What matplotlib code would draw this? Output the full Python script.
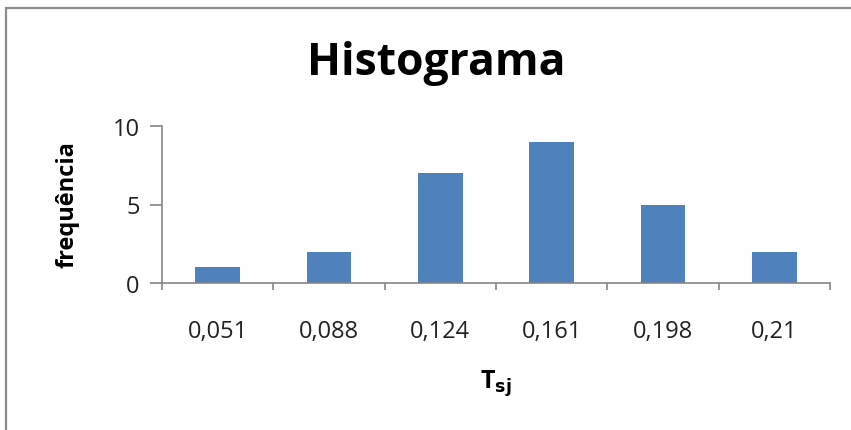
import matplotlib
matplotlib.use("Agg")
import matplotlib.pyplot as plt
from matplotlib.patches import Rectangle

categories = ["0,051", "0,088", "0,124", "0,161", "0,198", "0,21"]
frequencies = [1, 2, 7, 9, 5, 2]
yticks = [0, 5, 10]

W, H = 851, 431
fig = plt.figure(figsize=(W / 100, H / 100), dpi=100)
fig.patch.set_facecolor("white")

# outer frame
fig.patches.append(Rectangle((6 / W, -0.05), 1.2, 1 - 9 / H + 0.05, transform=fig.transFigure,
                             fill=False, edgecolor="#8c8c8c", linewidth=1.6))

ax = fig.add_axes([162 / W, 1 - 284 / H, (830 - 162) / W, (284 - 127) / H])
x = list(range(len(categories)))
ax.bar(x, frequencies, width=0.4, color="#4F81BD", zorder=2)
ax.set_xlim(-0.5, len(categories) - 0.5)
ax.set_ylim(0, 10)
ax.set_yticks(yticks)
ax.set_yticklabels([str(v) for v in yticks])
ax.set_xticks([i - 0.5 for i in range(len(categories) + 1)], minor=False)
ax.set_xticklabels([""] * (len(categories) + 1))
ax.set_xticks(x, minor=True)
ax.set_xticklabels(categories, minor=True)
ax.tick_params(axis="x", which="major", length=5, width=1.2, color="#868686", direction="out")
ax.tick_params(axis="x", which="minor", length=0, pad=26, labelsize=17, labelcolor="#222222")
ax.tick_params(axis="y", length=9, width=1.2, color="#868686", direction="out", labelsize=17,
               labelcolor="#222222", pad=7)
for lab in ax.get_xticklabels(minor=True) + ax.get_yticklabels():
    lab.set_fontfamily("Open Sans")

for s in ["top", "right"]:
    ax.spines[s].set_visible(False)
for s in ["left", "bottom"]:
    ax.spines[s].set_color("#868686")
    ax.spines[s].set_linewidth(1.2)

fig.text(436 / W, 1 - 63 / H, "Histograma", ha="center", va="center", fontsize=32,
         fontweight="bold", family="Open Sans")
fig.text(67 / W, 1 - 205 / H, "frequência", ha="center", va="center", rotation=90,
         fontsize=17, fontweight="bold", family="Open Sans")
fig.text(496 / W, 1 - 384 / H, r"T$_{\mathbf{sj}}$", ha="center", va="center",
         fontsize=18, fontweight="bold", family="Open Sans")

fig.savefig("out.png", dpi=100)
